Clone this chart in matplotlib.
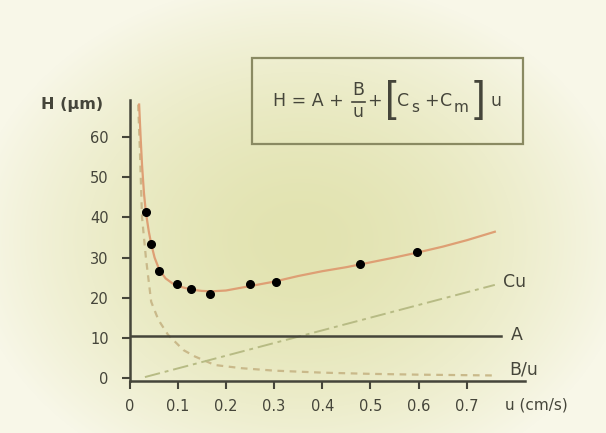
import numpy as np
import matplotlib.pyplot as plt
from matplotlib.patches import Rectangle
from matplotlib.lines import Line2D

# measured plate height points
u_pts = [0.034, 0.045, 0.062, 0.098, 0.128, 0.166, 0.25, 0.305, 0.478, 0.596]
h_pts = [41.2, 33.4, 26.7, 23.3, 22.1, 21.0, 23.3, 23.9, 28.3, 31.3]

# van Deemter curve
u_fit = [0.020, 0.023, 0.026, 0.030, 0.034, 0.040, 0.045, 0.052, 0.062, 0.075,
         0.090, 0.110, 0.130, 0.150, 0.170, 0.200, 0.250, 0.300, 0.350, 0.400,
         0.450, 0.500, 0.550, 0.600, 0.650, 0.700, 0.758]
h_fit = [68.0, 60.0, 53.0, 46.0, 41.2, 36.5, 33.4, 30.0, 26.9, 24.8,
         23.5, 22.6, 22.0, 21.7, 21.6, 21.8, 22.9, 24.0, 25.4, 26.6,
         27.6, 28.8, 30.0, 31.3, 32.7, 34.3, 36.4]

# B/u term
u_b = [0.018, 0.022, 0.026, 0.034, 0.045, 0.060, 0.080, 0.112, 0.136, 0.177,
       0.233, 0.300, 0.400, 0.500, 0.600, 0.758]
h_b = [68.0, 55.0, 40.0, 30.0, 19.0, 14.5, 10.8, 7.0, 5.4, 3.3,
       2.5, 1.9, 1.4, 1.1, 0.9, 0.7]

# Cu term
u_c = [0.032, 0.758]
h_c = [0.3, 23.2]

# A term
a_val = 10.5
a_end = 0.77

x_ticks = [0, 0.1, 0.2, 0.3, 0.4, 0.5, 0.6, 0.7]
x_labels = ['0', '0.1', '0.2', '0.3', '0.4', '0.5', '0.6', '0.7']
y_ticks = [0, 10, 20, 30, 40, 50, 60]

W, H = 606, 433
plt.rcParams['font.family'] = ['DejaVu Sans']

fig = plt.figure(figsize=(W / 100, H / 100), dpi=100)


def px(x, y):
    # pixel position -> figure fraction
    return x / W, 1 - y / H


# background gradient
bg = fig.add_axes([0, 0, 1, 1])
yy, xx = np.mgrid[0:H, 0:W]
d = np.sqrt(((xx - 300) / 330.0) ** 2 + ((yy - 240) / 260.0) ** 2)
t = np.clip(d, 0, 1) ** 1.6
c0 = np.array([226, 227, 176]) / 255.0
c1 = np.array([248, 247, 232]) / 255.0
img = c0[None, None, :] * (1 - t[..., None]) + c1[None, None, :] * t[..., None]
bg.imshow(img, extent=[0, W, H, 0], aspect='auto')
bg.set_xlim(0, W)
bg.set_ylim(H, 0)
bg.axis('off')

ink = '#45453a'
ax = fig.add_axes([129.5 / W, (H - 380.7) / H, (524.7 - 129.5) / W, (380.7 - 100.5) / H])
ax.patch.set_alpha(0)
ax.set_xlim(0, 0.82)
ax.set_ylim(-0.6, 69)
for s in ['top', 'right']:
    ax.spines[s].set_visible(False)
for s in ['left', 'bottom']:
    ax.spines[s].set_color(ink)
    ax.spines[s].set_linewidth(1.8)
ax.set_xticks(x_ticks)
ax.set_xticklabels(x_labels)
ax.set_yticks(y_ticks)
ax.tick_params(colors=ink, width=1.5, length=6, labelsize=10.5)
ax.tick_params(axis='y', pad=9)
ax.tick_params(axis='x', pad=7)

ax.plot(u_b, h_b, color='#c9b98a', lw=1.6, ls=(0, (3, 2.5)))
ax.plot(u_c, h_c, color='#b7bb84', lw=1.4, ls=(0, (8, 2.5, 2, 2.5)))
ax.plot([0, a_end], [a_val, a_val], color=ink, lw=1.8)
ax.plot(u_fit, h_fit, color='#de9f74', lw=1.6, solid_joinstyle='round')
ax.plot(u_pts, h_pts, 'o', color='black', ms=5.5)

ax.text(0.775, 23.9, 'Cu', fontsize=12.5, color=ink, va='center', clip_on=False)
ax.text(0.792, 10.7, 'A', fontsize=12.5, color=ink, va='center', clip_on=False)
ax.text(0.788, 2.1, 'B/u', fontsize=12.5, color=ink, va='center', clip_on=False)

fig.text(*px(505, 405), 'u (cm/s)', fontsize=11, color=ink, va='center')
fig.text(*px(103, 105), 'H (µm)', fontsize=11.5, color=ink, va='center',
         ha='right', fontweight='bold')

# equation box
fig.add_artist(Rectangle(px(251.7, 144), (522.7 - 251.7) / W, (144 - 58.3) / H,
                         transform=fig.transFigure, fill=False, ec='#8a8a62', lw=1.6))
eq = dict(fontsize=12.5, color=ink, va='center')
sub = dict(fontsize=11, color=ink, va='center', ha='left')
br = dict(fontsize=30, color=ink, va='center', ha='center', family='Liberation Sans')
fig.text(*px(273, 101), 'H = A +', ha='left', **eq)
fig.text(*px(358, 90), 'B', ha='center', **eq)
fig.add_artist(Line2D([352 / W, 365 / W], [1 - 101.5 / H] * 2, transform=fig.transFigure,
                      color=ink, lw=1.2))
fig.text(*px(358, 112), 'u', ha='center', **eq)
fig.text(*px(374, 101), '+', ha='center', **eq)
fig.text(*px(391, 100), '[', **br)
fig.text(*px(397, 101), 'C', ha='left', **eq)
fig.text(*px(411, 107), 's', **sub)
fig.text(*px(431, 101), '+', ha='center', **eq)
fig.text(*px(440, 101), 'C', ha='left', **eq)
fig.text(*px(454, 107), 'm', **sub)
fig.text(*px(479, 100), ']', **br)
fig.text(*px(491, 101), 'u', ha='left', **eq)

fig.savefig('out.png', dpi=100)
